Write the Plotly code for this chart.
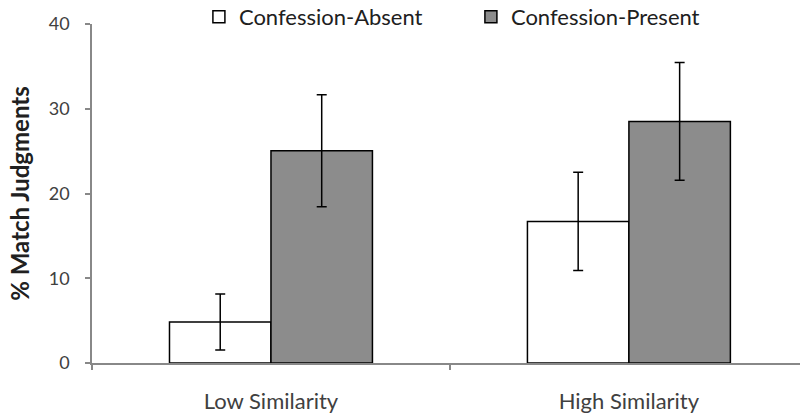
import plotly.graph_objects as go

categories = ["Low Similarity", "High Similarity"]
series_names = ["Confession-Absent", "Confession-Present"]
absent_vals = [4.83, 16.7]
absent_err = [3.3, 5.8]
present_vals = [25.05, 28.5]
present_err = [6.6, 6.95]
y_ticks = [0, 10, 20, 30, 40]

FONT = "Lato"
TXT = "#404040"

fig = go.Figure()
fig.add_trace(go.Bar(
    name=series_names[0], x=categories, y=absent_vals,
    marker=dict(color="white", line=dict(color="black", width=1.5)),
    error_y=dict(type="data", array=absent_err, color="black", thickness=1.5, width=5),
))
fig.add_trace(go.Bar(
    name=series_names[1], x=categories, y=present_vals,
    marker=dict(color="#8c8c8c", line=dict(color="black", width=1.5)),
    error_y=dict(type="data", array=present_err, color="black", thickness=1.5, width=5),
))

plot_h = 419 - 56
fig.update_layout(
    width=800, height=419,
    margin=dict(l=92, r=0, t=0, b=56, autoexpand=False),
    paper_bgcolor="white", plot_bgcolor="white",
    barmode="group", bargap=0.433, bargroupgap=0,
    font=dict(family=FONT, color=TXT, size=14),
    showlegend=True,
    legend=dict(orientation="h", x=0.151, xanchor="left", y=(plot_h - 17) / plot_h, yanchor="middle",
                font=dict(size=22, color="#202020", family=FONT),
                entrywidth=227, entrywidthmode="pixels", traceorder="normal", itemwidth=30,
                bgcolor="rgba(0,0,0,0)"),
    xaxis=dict(
        type="category", range=[-0.5, 1.478],
        showline=True, linecolor="#888888", linewidth=1.5,
        ticks="outside", tickson="boundaries", ticklen=5, tickcolor="#888888", tickwidth=1.5,
        tickfont=dict(size=22, color=TXT, family=FONT), showgrid=False, ticklabelstandoff=18,
    ),
    yaxis=dict(
        range=[0, 40], tickvals=y_ticks, domain=[0, (plot_h - 24) / plot_h],
        showline=True, linecolor="#888888", linewidth=1.5,
        ticks="outside", ticklen=5, tickcolor="#888888", tickwidth=1.5, ticklabelstandoff=12,
        tickfont=dict(size=18, color=TXT, family=FONT), showgrid=False, zeroline=False,
        title=dict(text="<b>% Match Judgments</b>", font=dict(size=24, color="#202020", family=FONT), standoff=12),
    ),
)

fig.write_html("out.html")
